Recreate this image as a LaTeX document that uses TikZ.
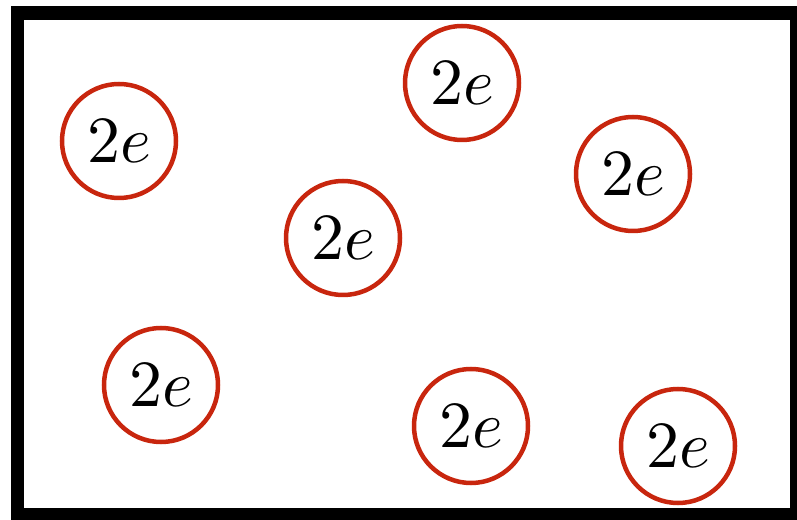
\documentclass[tikz,border=0pt]{standalone}
\usepackage{graphicx}
\definecolor{ringred}{RGB}{200,38,14}
\newcommand{\bigpair}{\scalebox{6.6}{$2e$}}
\begin{document}
\begin{tikzpicture}[x=1pt,y=1pt,
  pair/.style={circle, draw=ringred, line width=4.5pt, minimum size=114pt, inner sep=0pt},
  frame/.style={draw=black, line width=13.5pt}]
\useasboundingbox (0,0) rectangle (797,519);
\draw[frame] (17.5,4.5) rectangle (796.5,506);
\node[pair] (p1) at (119,378) {\bigpair};
\node[pair] (p2) at (462,436) {\bigpair};
\node[pair] (p3) at (633,345) {\bigpair};
\node[pair] (p4) at (343,281) {\bigpair};
\node[pair] (p5) at (161,134) {\bigpair};
\node[pair] (p6) at (471,93) {\bigpair};
\node[pair] (p7) at (678,73) {\bigpair};
\end{tikzpicture}
\end{document}
